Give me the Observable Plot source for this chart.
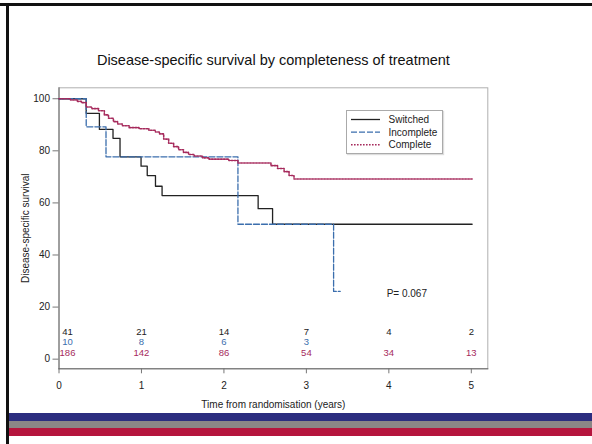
<!DOCTYPE html>
<html>
<head>
<meta charset="utf-8">
<script src="https://cdn.jsdelivr.net/npm/d3@7"></script>
<script src="https://cdn.jsdelivr.net/npm/@observablehq/plot@0.6"></script>
<style>
  html, body { margin: 0; padding: 0; background: #fff; }
  #wrap { position: relative; width: 592px; height: 444px; overflow: hidden; font-family: "Liberation Sans", Arial, sans-serif; }
  #chart { position: absolute; left: 0; top: 0; }
  .bar { position: absolute; }
  #legend { position: absolute; left: 345.5px; top: 110px; width: 95px; height: 42px; border: 1px solid #aaa; background: #fff; box-shadow: 1px 1px 1px #ddd; }
  #legend svg { display: block; }
</style>
</head>
<body>
<div id="wrap">
  <div id="chart"></div>
  <div class="bar" style="left:0;top:3px;width:592px;height:3px;background:#111"></div>
  <div class="bar" style="left:6px;top:3px;width:3px;height:441px;background:#111"></div>
  <div class="bar" style="left:9px;top:413px;width:583px;height:8px;background:#2c2d7f"></div>
  <div class="bar" style="left:9px;top:421px;width:583px;height:7px;background:#8b8686"></div>
  <div class="bar" style="left:9px;top:428px;width:583px;height:8px;background:#b5153d"></div>
  <div id="legend"></div>
</div>
<script>
// ---- Data ----
const title = "Disease-specific survival by completeness of treatment";
const xLabel = "Time from randomisation (years)";
const yLabel = "Disease-specific survival";
const pLabel = "P= 0.067";

const groups = ["Switched", "Incomplete", "Complete"];
const colors = ["#222222", "#3b6ead", "#a62a5c"];

const switchedT = [0, 0.33, 0.49, 0.655, 0.74, 0.995, 1.07, 1.17, 1.25, 2.415, 2.59, 5.01];
const switchedS = [100, 94.4, 88.2, 84.8, 77.7, 74.1, 70.5, 66.4, 62.8, 57.8, 51.8, 51.8];

const incompleteT = [0, 0.33, 0.57, 2.17, 3.33, 3.41];
const incompleteS = [100, 89.2, 77.7, 51.8, 26, 26];

const completeT = [0, 0.14, 0.22, 0.27, 0.33, 0.40, 0.48, 0.55, 0.60, 0.66, 0.71, 0.77, 0.85, 0.97, 1.09, 1.17, 1.22, 1.27, 1.33, 1.39, 1.45, 1.51, 1.57, 1.64, 1.74, 1.82, 2.06, 2.17, 2.57, 2.65, 2.73, 2.79, 2.85, 5.01];
const completeS = [100, 99.5, 99.0, 98.5, 96.8, 96.2, 95.4, 93.8, 92.5, 91.2, 90.3, 89.6, 88.9, 88.5, 87.9, 87.2, 86.5, 84.5, 82.9, 81.6, 80.4, 79.4, 78.6, 78.0, 77.3, 76.8, 76.3, 75.3, 74.3, 73.2, 72.0, 70.5, 69.2, 69.2];

const riskTimes = [0, 1, 2, 3, 4, 5];
const switchedRisk = [41, 21, 14, 7, 4, 2];
const incompleteRisk = [10, 8, 6, 3];
const completeRisk = [186, 142, 86, 54, 34, 13];

const xTicks = [0, 1, 2, 3, 4, 5];
const yTicks = [0, 20, 40, 60, 80, 100];

// ---- Build tables ----
const toRows = (T, S) => T.map((t, i) => ({t, s: S[i]}));
const sw = toRows(switchedT, switchedS);
const inc = toRows(incompleteT, incompleteS);
const comp = toRows(completeT, completeS);

const riskRows = (arr, g) => arr.map((n, i) => ({t: riskTimes[i], n: String(n), g}));
const riskSets = [riskRows(switchedRisk, 0), riskRows(incompleteRisk, 1), riskRows(completeRisk, 2)];
const rowDy = [-37, -27, -16];

const riskMarks = [];
riskSets.forEach((rows, g) => {
  riskMarks.push(Plot.text(rows.filter(d => d.t === 0), {x: "t", text: "n", frameAnchor: "bottom", dy: rowDy[g], dx: 8.5, fill: colors[g], fontSize: 9.5, lineAnchor: "middle"}));
  riskMarks.push(Plot.text(rows.filter(d => d.t !== 0), {x: "t", text: "n", frameAnchor: "bottom", dy: rowDy[g], fill: colors[g], fontSize: 9.5, lineAnchor: "middle"}));
});

const chart = Plot.plot({
  width: 592,
  height: 444,
  marginLeft: 58.5,
  marginRight: 104.7,
  marginTop: 87.3,
  marginBottom: 75.7,
  style: {fontFamily: "'Liberation Sans', Arial, sans-serif", fontSize: "10px", color: "#222", background: "transparent"},
  x: {domain: [0, 5.2]},
  y: {domain: [-3.7, 104.2]},
  marks: [
    Plot.frame({stroke: "#b0b0b0"}),
    Plot.frame({anchor: "left", stroke: "#666"}),
    Plot.frame({anchor: "bottom", stroke: "#666"}),
    Plot.axisX({ticks: xTicks, tickFormat: "d", tickSize: 5, tickPadding: 8, stroke: "#777", fill: "#222", label: null, fontSize: 10}),
    Plot.axisY({ticks: yTicks, tickFormat: "d", tickSize: 6, tickPadding: 3, stroke: "#777", fill: "#222", label: null, fontSize: 10}),
    Plot.line(sw, {x: "t", y: "s", curve: "step-after", stroke: colors[0], strokeWidth: 1.3}),
    Plot.line(inc, {x: "t", y: "s", curve: "step-after", stroke: colors[1], strokeWidth: 1.3, strokeDasharray: "6,2"}),
    Plot.line(comp, {x: "t", y: "s", curve: "step-after", stroke: colors[2], strokeWidth: 1.6, strokeDasharray: "1.6,1.4"}),
    ...riskMarks,
    Plot.text([pLabel], {frameAnchor: "bottom-right", dx: -81, dy: -75, textAnchor: "middle", lineAnchor: "middle", fontSize: 10, fill: "#222"}),
    Plot.text([title], {frameAnchor: "top", dy: -27, lineAnchor: "middle", fontSize: 14.5, fill: "#111"}),
    Plot.text([xLabel], {frameAnchor: "bottom", dy: 35.7, lineAnchor: "middle", fontSize: 10, fill: "#222"}),
    Plot.text([yLabel], {frameAnchor: "left", dx: -33.5, rotate: -90, lineAnchor: "middle", textAnchor: "middle", fontSize: 10, fill: "#222"})
  ]
});
document.getElementById("chart").appendChild(chart);

// ---- Legend ----
const dashes = [null, "6,2", "1.6,1.4"];
const widths = [1.3, 1.3, 1.6];
const lsvg = d3.select("#legend").append("svg").attr("width", 95).attr("height", 42);
groups.forEach((g, i) => {
  const cy = 8.5 + i * 12.6;
  const l = lsvg.append("line").attr("x1", 4).attr("x2", 33).attr("y1", cy).attr("y2", cy)
    .attr("stroke", colors[i]).attr("stroke-width", widths[i]);
  if (dashes[i]) l.attr("stroke-dasharray", dashes[i]);
  lsvg.append("text").attr("x", 41.5).attr("y", cy).attr("dy", "0.35em")
    .attr("font-size", 10).attr("font-family", "'Liberation Sans', Arial, sans-serif").attr("fill", "#222").text(g);
});
</script>
</body>
</html>
